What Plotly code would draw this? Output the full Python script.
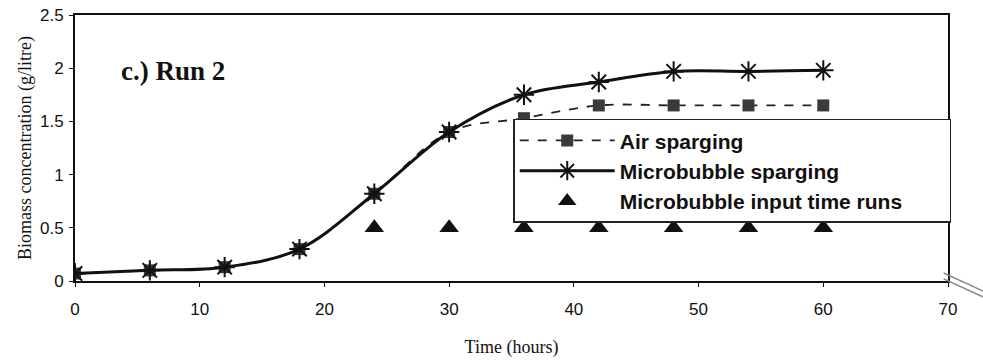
import plotly.graph_objects as go

# Sampling times (hours)
time_h = [0, 6, 12, 18, 24, 30, 36, 42, 48, 54, 60]

# Biomass concentration (g/litre)
air_sparging = [0.07, 0.10, 0.13, 0.30, 0.82, 1.40, 1.53, 1.65, 1.65, 1.65, 1.65]
microbubble_sparging = [0.07, 0.10, 0.13, 0.30, 0.82, 1.40, 1.75, 1.87, 1.97, 1.97, 1.98]

# Times at which microbubbles were introduced
input_times = [24, 30, 36, 42, 48, 54, 60]
input_level = [0.5, 0.5, 0.5, 0.5, 0.5, 0.5, 0.5]

x_ticks = [0, 10, 20, 30, 40, 50, 60, 70]
y_ticks = [0, 0.5, 1, 1.5, 2, 2.5]
y_tick_text = ["0", "0.5", "1", "1.5", "2", "2.5"]

fig = go.Figure()

fig.add_trace(go.Scatter(
    x=time_h, y=air_sparging, name="Air sparging",
    mode="lines+markers", line=dict(color="#222", width=1.8, dash="dash", shape="spline"),
    marker=dict(symbol="square", size=12, color="#3a3a3a"),
))
fig.add_trace(go.Scatter(
    x=time_h, y=microbubble_sparging, name="Microbubble sparging",
    mode="lines+markers", line=dict(color="#111", width=3, shape="spline"),
    marker=dict(symbol="asterisk-open", size=17, line=dict(color="#111", width=2)),
))
fig.add_trace(go.Scatter(
    x=input_times, y=input_level, name="Microbubble input time runs\u2003\u2003",
    mode="markers", marker=dict(symbol="triangle-up", size=17, color="#111"),
))

fig.add_annotation(
    text="<b>c.) Run 2</b>", x=0.05, y=0.79, xref="paper", yref="paper",
    xanchor="left", yanchor="middle", showarrow=False,
    font=dict(family="Liberation Serif", size=27, color="#111"),
)

# axis-break marks at the right end of the time axis
for dy in (0.0, -0.022):
    fig.add_shape(type="line", xref="paper", yref="paper",
                  x0=0.995, y0=0.03 + dy, x1=1.045, y1=-0.045 + dy,
                  line=dict(color="#888", width=1.5))

fig.update_layout(
    width=983, height=360,
    margin=dict(l=75, r=35, t=15, b=79),
    paper_bgcolor="white", plot_bgcolor="white",
    font=dict(family="Liberation Sans", size=16, color="#111"),
    showlegend=True,
    legend=dict(
        x=0.502, y=0.61, xanchor="left", yanchor="top",
        bgcolor="white", bordercolor="#222", borderwidth=1.5,
        font=dict(family="Liberation Sans", size=21, color="#111", weight="bold"),
        itemwidth=95, tracegroupgap=6,
    ),
    xaxis=dict(
        range=[0, 70], tickvals=x_ticks, showline=True, linecolor="#111", linewidth=2,
        mirror=True, ticks="outside", ticklen=4, tickcolor="#111", showgrid=False,
        zeroline=False, ticklabelstandoff=8, automargin=False,
        title=dict(text="Time (hours)", font=dict(family="Liberation Serif", size=18), standoff=22),
        tickfont=dict(family="Liberation Sans", size=17),
    ),
    yaxis=dict(
        range=[0, 2.5], tickvals=y_ticks, ticktext=y_tick_text, showline=True,
        linecolor="#111", linewidth=2, mirror=True, ticks="outside", ticklen=4,
        tickcolor="#111", showgrid=False, zeroline=False, ticklabelstandoff=2,
        automargin=False,
        title=dict(text="Biomass concentration (g/litre)", font=dict(family="Liberation Serif", size=18), standoff=4),
        tickfont=dict(family="Liberation Sans", size=17),
    ),
)

fig.write_html("out.html")
